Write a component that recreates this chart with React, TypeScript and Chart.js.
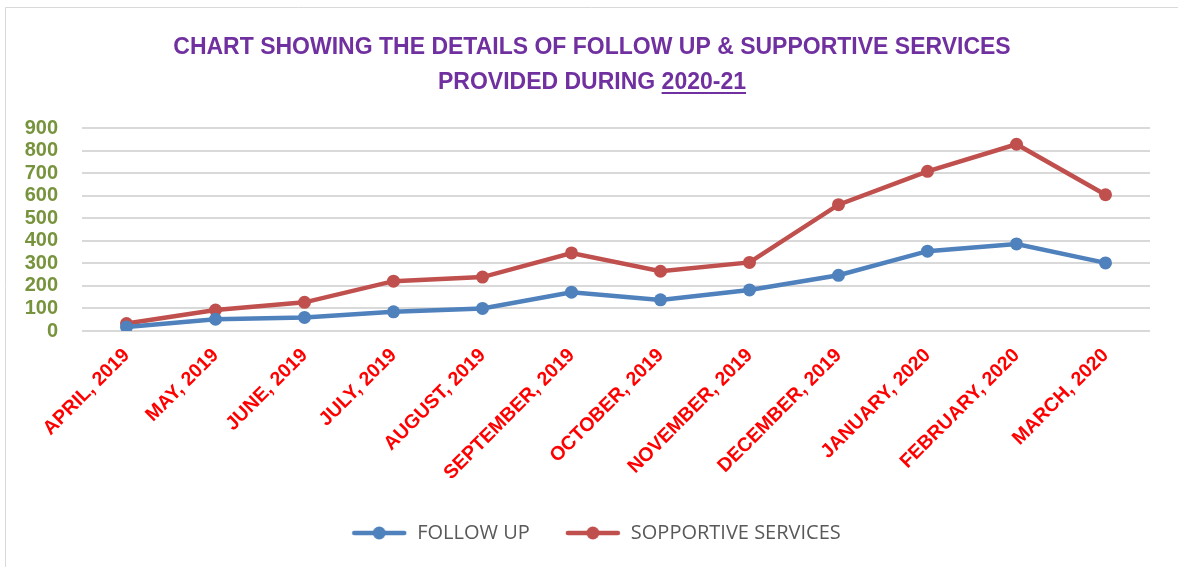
import React, { useEffect, useRef } from "react";
import { Chart, registerables } from "chart.js";

Chart.register(...registerables);

const months = [
  "APRIL, 2019", "MAY, 2019", "JUNE, 2019", "JULY, 2019", "AUGUST, 2019", "SEPTEMBER, 2019",
  "OCTOBER, 2019", "NOVEMBER, 2019", "DECEMBER, 2019", "JANUARY, 2020", "FEBRUARY, 2020", "MARCH, 2020",
];
const followUp = [18, 52, 60, 85, 100, 172, 138, 182, 247, 354, 386, 302];
const supportive = [33, 93, 127, 221, 239, 346, 265, 304, 560, 708, 828, 604];
const yTicks = [0, 100, 200, 300, 400, 500, 600, 700, 800, 900];
const titleLine1 = "CHART SHOWING THE DETAILS OF FOLLOW UP & SUPPORTIVE SERVICES";
const titleLine2a = "PROVIDED DURING ";
const titleLine2b = "2020-21";

const BLUE = "#4F81BD";
const RED = "#C0504D";
const PURPLE = "#7030A0";
const GREEN = "#77933C";
const BOLDFONT = "'Liberation Sans Narrow', 'Liberation Sans', sans-serif";

function legendIcon(color: string): HTMLCanvasElement {
  const c = document.createElement("canvas");
  c.width = 56;
  c.height = 14;
  const ctx = c.getContext("2d")!;
  ctx.strokeStyle = color;
  ctx.lineWidth = 4.5;
  ctx.lineCap = "round";
  ctx.beginPath();
  ctx.moveTo(3, 7);
  ctx.lineTo(53, 7);
  ctx.stroke();
  ctx.fillStyle = color;
  ctx.beginPath();
  ctx.arc(28, 7, 6.5, 0, Math.PI * 2);
  ctx.fill();
  return c;
}

const framePlugin = {
  id: "frameAndTitle",
  afterLayout(chart: any) {
    if (chart.legend) {
      chart.legend.left += 21;
      chart.legend.right += 21;
    }
  },
  beforeDraw(chart: any) {
    const ctx = chart.ctx as CanvasRenderingContext2D;
    ctx.save();
    ctx.strokeStyle = "#D9D9D9";
    ctx.lineWidth = 1;
    ctx.beginPath();
    ctx.moveTo(5.5, 567);
    ctx.lineTo(5.5, 7.5);
    ctx.lineTo(1178, 7.5);
    ctx.stroke();
    ctx.restore();
  },
  afterDraw(chart: any) {
    const ctx = chart.ctx as CanvasRenderingContext2D;
    const cx = 592;
    ctx.save();
    ctx.fillStyle = PURPLE;
    ctx.font = `bold 23px ${BOLDFONT}`;
    ctx.textBaseline = "alphabetic";
    ctx.textAlign = "center";
    ctx.fillText(titleLine1, cx, 54);
    const wa = ctx.measureText(titleLine2a).width;
    const wb = ctx.measureText(titleLine2b).width;
    const start = cx - (wa + wb) / 2;
    ctx.textAlign = "left";
    ctx.fillText(titleLine2a, start, 89);
    ctx.fillText(titleLine2b, start + wa, 89);
    ctx.strokeStyle = PURPLE;
    ctx.lineWidth = 2;
    ctx.beginPath();
    ctx.moveTo(start + wa, 93);
    ctx.lineTo(start + wa + wb, 93);
    ctx.stroke();
    ctx.restore();
  },
};

export default function App() {
  const ref = useRef<HTMLCanvasElement | null>(null);
  useEffect(() => {
    document.body.style.margin = "0";
    const chart = new Chart(ref.current!, {
      type: "line",
      data: {
        labels: months,
        datasets: [
          {
            label: "FOLLOW UP",
            data: followUp,
            borderColor: BLUE,
            backgroundColor: BLUE,
            borderWidth: 4.5,
            pointRadius: 6.5,
            pointHoverRadius: 6.5,
            pointBackgroundColor: BLUE,
            pointBorderWidth: 0,
            tension: 0,
          },
          {
            label: "SOPPORTIVE SERVICES",
            data: supportive,
            borderColor: RED,
            backgroundColor: RED,
            borderWidth: 4.5,
            pointRadius: 6.5,
            pointHoverRadius: 6.5,
            pointBackgroundColor: RED,
            pointBorderWidth: 0,
            tension: 0,
          },
        ],
      },
      options: {
        animation: false,
        responsive: false,
        layout: { padding: { top: 128, left: 0, right: 28, bottom: 14 } },
        plugins: {
          title: { display: false },
          tooltip: { enabled: false },
          legend: {
            position: "bottom",
            labels: {
              usePointStyle: true,
              pointStyleWidth: 56,
              padding: 35,
              color: "#595959",
              font: { family: "'Open Sans', 'Liberation Sans', sans-serif", size: 20 },
              generateLabels: (ch: any) =>
                ch.data.datasets.map((d: any, i: number) => ({
                  text: d.label,
                  pointStyle: legendIcon(d.borderColor),
                  fillStyle: d.borderColor,
                  strokeStyle: d.borderColor,
                  lineWidth: 0,
                  datasetIndex: i,
                  fontColor: "#595959",
                })),
            },
          },
        },
        scales: {
          x: {
            offset: true,
            grid: { display: false },
            border: { display: false },
            afterFit: (s: any) => {
              s.height = 157;
            },
            ticks: {
              minRotation: 45,
              maxRotation: 45,
              autoSkip: false,
              padding: 5,
              color: "#FF0000",
              font: { family: BOLDFONT, size: 19.5, weight: "bold" },
            },
          },
          y: {
            min: 0,
            max: 900,
            afterFit: (s: any) => {
              s.width = 82;
            },
            afterBuildTicks: (s: any) => {
              s.ticks = yTicks.map((v) => ({ value: v }));
            },
            grid: { color: "#D9D9D9", lineWidth: 2, drawTicks: false },
            border: { display: false },
            ticks: {
              autoSkip: false,
              padding: 24,
              color: GREEN,
              font: { family: BOLDFONT, size: 20, weight: "bold" },
            },
          },
        },
      },
      plugins: [framePlugin],
    });
    return () => chart.destroy();
  }, []);
  return (
    <div style={{ position: "relative", width: 1178, height: 567 }}>
      <canvas ref={ref} width={1178} height={567} style={{ display: "block" }} />
    </div>
  );
}
